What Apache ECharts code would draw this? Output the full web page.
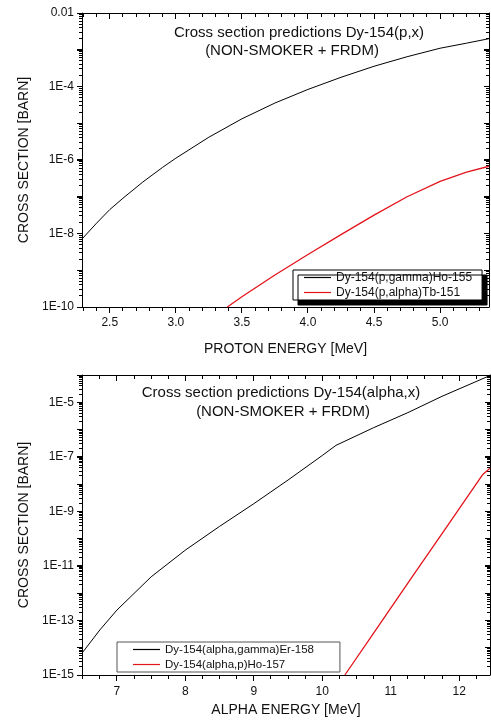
<!DOCTYPE html>
<html>
<head>
<meta charset="utf-8">
<script src="https://cdn.jsdelivr.net/npm/echarts@6/dist/echarts.min.js"></script>
<style>
  html, body { margin: 0; padding: 0; background: #fff; }
  .panel { width: 491px; height: 362px; }
</style>
</head>
<body>
<div id="proton" class="panel"></div>
<div id="alpha" class="panel"></div>
<script>
// Dy-154(p,x) : proton energy [MeV] -> cross section [barn]
var pGammaEnergy = [2.29, 2.4, 2.5, 2.6, 2.75, 2.9, 3.0, 3.25, 3.5, 3.75, 4.0, 4.25, 4.5, 4.75, 5.0, 5.2, 5.37];
var pGammaHo155 = [7.08e-9, 1.91e-8, 4.47e-8, 9.12e-8, 2.51e-7, 6.31e-7, 1.12e-6, 4.17e-6, 1.32e-5, 3.55e-5, 8.32e-5, 1.78e-4, 3.55e-4, 6.46e-4, 1.10e-3, 1.51e-3, 2.0e-3];
var pAlphaEnergy = [3.39, 3.5, 3.75, 4.0, 4.25, 4.5, 4.75, 5.0, 5.2, 5.37];
var pAlphaTb151 = [1.0e-10, 1.91e-10, 7.41e-10, 2.69e-9, 9.33e-9, 3.16e-8, 1.0e-7, 2.63e-7, 4.68e-7, 6.76e-7];

// Dy-154(alpha,x) : alpha energy [MeV] -> cross section [barn]
var aGammaEnergy = [6.49, 6.75, 7.0, 7.5, 8.0, 8.5, 9.0, 9.5, 10.0, 10.2, 10.75, 11.25, 11.75, 12.45];
var aGammaEr158 = [6.31e-15, 4.47e-14, 2.40e-13, 3.98e-12, 3.80e-11, 2.82e-10, 1.91e-9, 1.41e-8, 1.12e-7, 2.63e-7, 1.17e-6, 4.17e-6, 1.66e-5, 9.55e-5];
var aPEnergy = [10.33, 10.8, 11.3, 11.8, 12.34, 12.45];
var aPHo157 = [1e-15, 5.25e-14, 3.55e-12, 2.34e-10, 2.19e-8, 3.80e-8];

// axis ranges and tick labels
var protonXRange = [2.29, 5.37];
var protonYRange = [1e-10, 1e-2];
var protonXTicks = [2.5, 3.0, 3.5, 4.0, 4.5, 5.0];
var protonYTicks = [1e-10, 1e-8, 1e-6, 1e-4, 1e-2];
var protonYText = ['1E-10', '1E-8', '1E-6', '1E-4', '0.01'];

var alphaXRange = [6.49, 12.45];
var alphaYRange = [1e-15, 1e-4];
var alphaXTicks = [7, 8, 9, 10, 11, 12];
var alphaYTicks = [1e-15, 1e-13, 1e-11, 1e-9, 1e-7, 1e-5];
var alphaYText = ['1E-15', '1E-13', '1E-11', '1E-9', '1E-7', '1E-5'];

var font = 'Arial, "Liberation Sans", sans-serif';
var ink = '#111';
var red = '#e3141c';

function pairs(xs, ys) {
    return xs.map(function (x, i) { return [x, ys[i]]; });
}

// tick positions along an axis (not data)
function steps(from, to, step) {
    var out = [];
    for (var v = from; v <= to + 1e-9; v += step) out.push(+v.toFixed(3));
    return out;
}

function decades(range) {
    var out = [];
    var e0 = Math.round(Math.log10(range[0])), e1 = Math.round(Math.log10(range[1]));
    for (var e = e0; e <= e1; e++) out.push(Math.pow(10, e));
    return out;
}

function logMinor(range) {
    var out = [];
    var e0 = Math.round(Math.log10(range[0])), e1 = Math.round(Math.log10(range[1]));
    for (var e = e0; e < e1; e++) {
        for (var k = 2; k <= 9; k++) out.push(k * Math.pow(10, e));
    }
    return out;
}

function yFormatter(values, texts) {
    var exps = values.map(function (v) { return Math.round(Math.log10(v)); });
    return function (v) {
        var i = exps.indexOf(Math.round(Math.log10(v)));
        return i < 0 ? '' : texts[i];
    };
}

// one short vertical mark per value, hanging below a horizontal edge
function xTickSeries(values, yEdge, len) {
    return {
        type: 'custom', xAxisIndex: 0, yAxisIndex: 0, silent: true, clip: false, z: 3, animation: false,
        data: values.map(function (v) { return [v, yEdge]; }),
        renderItem: function (params, api) {
            var pt = api.coord([api.value(0), yEdge]);
            return { type: 'rect', shape: { x: Math.floor(pt[0]), y: Math.floor(pt[1]) + 1, width: 1, height: len },
                style: { fill: '#000' } };
        }
    };
}

// one short horizontal mark per value, to the left of a vertical edge
function yTickSeries(values, xEdge, len) {
    return {
        type: 'custom', xAxisIndex: 0, yAxisIndex: 0, silent: true, clip: false, z: 3, animation: false,
        data: values.map(function (v) { return [xEdge, v]; }),
        renderItem: function (params, api) {
            var pt = api.coord([xEdge, api.value(1)]);
            return { type: 'rect', shape: { x: Math.floor(pt[0]) - len, y: Math.floor(pt[1]), width: len, height: 1 },
                style: { fill: '#000' } };
        }
    };
}

function lineSeries(name, data, color, width) {
    return {
        name: name, type: 'line', xAxisIndex: 0, yAxisIndex: 0, data: data,
        symbol: 'none', showSymbol: false, silent: true, animation: false,
        lineStyle: { color: color, width: width }, itemStyle: { color: color }
    };
}

function titleLine(text, x, y) {
    return { text: text, left: x, top: y, textAlign: 'center', padding: 0,
        textStyle: { fontSize: 15, fontWeight: 'normal', color: ink, fontFamily: font } };
}

var charts = [];

function drawPanel(domId, p) {
    var axisLine = { show: true, onZero: false, lineStyle: { color: '#000', width: 1 } };
    var xBase = { type: 'value', min: p.xRange[0], max: p.xRange[1], axisLine: axisLine,
        axisTick: { show: false }, splitLine: { show: false } };
    var yBase = { type: 'log', logBase: 10, min: p.yRange[0], max: p.yRange[1], interval: 1,
        axisLine: axisLine, splitLine: { show: false } };

    var chart = echarts.init(document.getElementById(domId), null, { renderer: 'canvas' });
    chart.setOption({
        backgroundColor: '#fff',
        animation: false,
        title: p.titles,
        grid: { left: 82, top: 13, width: p.gridWidth, height: p.gridHeight },
        xAxis: [
            Object.assign({}, xBase, {
                position: 'bottom',
                axisLabel: { customValues: p.xTicks, margin: p.labelMargin, fontSize: 12, color: ink, fontFamily: font,
                    formatter: function (v) { return v.toFixed(p.digits); } },
                name: p.xName, nameLocation: 'middle', nameGap: p.nameGap,
                nameTextStyle: { fontSize: 14, color: ink, fontFamily: font }
            }),
            Object.assign({}, xBase, { position: 'top', axisLabel: { show: false } })
        ],
        yAxis: [
            Object.assign({}, yBase, {
                position: 'left',
                axisTick: { show: true, length: 5, inside: false, lineStyle: { color: '#000', width: 1 } },
                axisLabel: { margin: 8, fontSize: 12, color: ink, fontFamily: font, formatter: yFormatter(p.yTicks, p.yText) },
                name: 'CROSS SECTION [BARN]', nameLocation: 'middle', nameGap: 50,
                nameTextStyle: { fontSize: 14, color: ink, fontFamily: font }
            }),
            Object.assign({}, yBase, {
                position: 'right',
                axisTick: { show: true, length: 5, inside: true, lineStyle: { color: '#000', width: 1 } },
                axisLabel: { show: false }
            })
        ],
        legend: p.legend,
        series: p.series.concat([
            xTickSeries(p.xTicks, p.yRange[0], 5),
            xTickSeries(p.xTicks, p.yRange[1], 5),
            xTickSeries(p.xMinor, p.yRange[0], 3),
            xTickSeries(p.xMinor, p.yRange[1], 3),
            yTickSeries(decades(p.yRange), p.xRange[0], 5),
            yTickSeries(decades(p.yRange), p.xRange[1], 5),
            yTickSeries(logMinor(p.yRange), p.xRange[0], 3),
            yTickSeries(logMinor(p.yRange), p.xRange[1], 3)
        ])
    });
    // make sure every element is in the display list and painted now
    chart.getZr().storage.getDisplayList(true);
    chart.getZr().refreshImmediately();
    charts.push(chart);
    return chart;
}

drawPanel('proton', {
    xRange: protonXRange, yRange: protonYRange,
    xTicks: protonXTicks, xMinor: steps(2.3, 5.3, 0.1), digits: 1,
    yTicks: protonYTicks, yText: protonYText,
    gridWidth: 407, gridHeight: 294, labelMargin: 10, nameGap: 35,
    xName: 'PROTON ENERGY [MeV]',
    titles: [
        titleLine('Cross section predictions Dy-154(p,x)', 299, 25),
        titleLine('(NON-SMOKER + FRDM)', 292, 43)
    ],
    legend: {
        orient: 'vertical', left: 293, top: 270, padding: [1, 10, 1, 11], itemGap: 2,
        icon: 'rect', itemWidth: 27, itemHeight: 1.2, backgroundColor: '#fff', borderColor: '#000', borderWidth: 1,
        shadowColor: '#000', shadowBlur: 0, shadowOffsetX: 5, shadowOffsetY: 5,
        textStyle: { fontSize: 12, lineHeight: 13, color: ink, fontFamily: font },
        data: ['Dy-154(p,gamma)Ho-155', 'Dy-154(p,alpha)Tb-151']
    },
    series: [
        lineSeries('Dy-154(p,gamma)Ho-155', pairs(pGammaEnergy, pGammaHo155), '#000', 1),
        lineSeries('Dy-154(p,alpha)Tb-151', pairs(pAlphaEnergy, pAlphaTb151), red, 1.3)
    ]
});

drawPanel('alpha', {
    xRange: alphaXRange, yRange: alphaYRange,
    xTicks: alphaXTicks, xMinor: steps(6.5, 12.25, 0.25), digits: 0,
    yTicks: alphaYTicks, yText: alphaYText,
    gridWidth: 408, gridHeight: 300, labelMargin: 11, nameGap: 24,
    xName: 'ALPHA ENERGY [MeV]',
    titles: [
        titleLine('Cross section predictions Dy-154(alpha,x)', 281, 23),
        titleLine('(NON-SMOKER + FRDM)', 283, 42)
    ],
    legend: {
        orient: 'vertical', left: 117, top: 280, padding: [1, 26, 1, 16], itemGap: 2,
        icon: 'rect', itemWidth: 27, itemHeight: 1.2, backgroundColor: '#fff', borderColor: '#555', borderWidth: 1,
        textStyle: { fontSize: 11.5, lineHeight: 13, color: ink, fontFamily: font },
        data: ['Dy-154(alpha,gamma)Er-158', 'Dy-154(alpha,p)Ho-157']
    },
    series: [
        lineSeries('Dy-154(alpha,gamma)Er-158', pairs(aGammaEnergy, aGammaEr158), '#000', 1),
        lineSeries('Dy-154(alpha,p)Ho-157', pairs(aPEnergy, aPHo157), red, 1.3)
    ]
});

// a second layout pass once the page has settled
setTimeout(function () {
    charts.forEach(function (c) {
        c.resize();
        c.getZr().storage.getDisplayList(true);
        c.getZr().refreshImmediately();
    });
}, 150);
</script>
</body>
</html>
